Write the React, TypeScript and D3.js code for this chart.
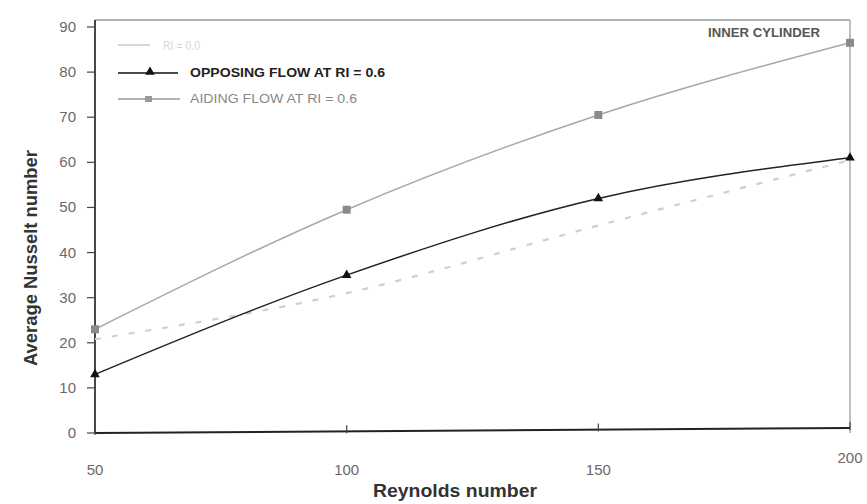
import React from "react";
import * as d3 from "d3";

const reynolds = [50, 100, 150, 200];
const ri00 = [20.8, 31, 46, 60.5];
const opposing = [13, 35, 52, 61];
const aiding = [23, 49.5, 70.5, 86.5];
const yTicks = [0, 10, 20, 30, 40, 50, 60, 70, 80, 90];
const xTicks = [50, 100, 150, 200];

const W = 867, H = 504;
const left = 95, right = 850, top = 27, bottom = 433;

export default function App() {
  const x = d3.scaleLinear().domain([50, 200]).range([left, right]);
  const y = d3.scaleLinear().domain([0, 90]).range([bottom, top]);
  const line = d3
    .line<number>()
    .x((_, i) => x(reynolds[i]))
    .y((d) => y(d))
    .curve(d3.curveMonotoneX);
  const font = "Liberation Sans, Arial, sans-serif";
  const tri = d3.symbol().type(d3.symbolTriangle).size(40)() as string;
  return (
    <svg width={W} height={H} style={{ position: "absolute", left: 0, top: 0, background: "#fff" }}>
      <rect x={0} y={0} width={W} height={H} fill="#fff" />
      {/* frame */}
      <line x1={left} y1={20} x2={right} y2={20} stroke="#999" strokeWidth={1.5} />
      <line x1={right} y1={20} x2={right} y2={bottom} stroke="#aaa" strokeWidth={1.5} />
      {/* axes */}
      <line x1={left} y1={20} x2={left} y2={bottom} stroke="#333" strokeWidth={1.8} />
      <line x1={left} y1={bottom} x2={right} y2={bottom - 5} stroke="#222" strokeWidth={2} />
      {yTicks.map((t) => (
        <g key={"y" + t}>
          <line x1={left - 8} x2={left} y1={y(t)} y2={y(t)} stroke="#444" strokeWidth={1.2} />
          <text x={76} y={y(t) + 5} textAnchor="end" fontFamily={font} fontSize={15} fill="#6a6a6a">
            {t}
          </text>
        </g>
      ))}
      {xTicks.map((t, i) => (
        <g key={"x" + t}>
          <line x1={x(t)} x2={x(t)} y1={bottom - 1.7 * i - 6} y2={bottom - 1.7 * i + 2} stroke="#444" strokeWidth={1.2} />
          <text x={x(t)} y={i === 3 ? 463 : 475} textAnchor="middle" fontFamily={font} fontSize={15} fill="#6a6a6a">
            {t}
          </text>
        </g>
      ))}
      <text
        transform={`translate(37,258) rotate(-90)`}
        textAnchor="middle"
        fontFamily={font}
        fontSize={19}
        fontWeight="bold"
        fill="#333"
        textLength={216}
        lengthAdjust="spacingAndGlyphs"
      >
        Average Nusselt number
      </text>
      <text
        x={455}
        y={497}
        textAnchor="middle"
        fontFamily={font}
        fontSize={19}
        fontWeight="bold"
        fill="#333"
        textLength={164}
        lengthAdjust="spacingAndGlyphs"
      >
        Reynolds number
      </text>
      {/* series */}
      <path d={line(ri00) || ""} fill="none" stroke="#cfcfcf" strokeWidth={2.2} strokeDasharray="6,11" />
      <path d={line(aiding) || ""} fill="none" stroke="#a8a8a8" strokeWidth={1.5} />
      <path d={line(opposing) || ""} fill="none" stroke="#222" strokeWidth={1.5} />
      {aiding.map((v, i) => (
        <rect key={"a" + i} x={x(reynolds[i]) - 4} y={y(v) - 4} width={8} height={8} fill="#8a8a8a" />
      ))}
      {opposing.map((v, i) => (
        <path key={"o" + i} d={tri} transform={`translate(${x(reynolds[i])},${y(v)})`} fill="#111" />
      ))}
      {/* legend */}
      <line x1={118} x2={150} y1={45} y2={45} stroke="#d6d6d6" strokeWidth={2} />
      <text x={163} y={50} fontFamily={font} fontSize={13} fill="#d6d6d6" textLength={37} lengthAdjust="spacingAndGlyphs">
        RI = 0.0
      </text>
      <line x1={118} x2={178} y1={73} y2={73} stroke="#111" strokeWidth={1.5} />
      <path d={tri} transform="translate(150,72)" fill="#111" />
      <text x={190} y={77} fontFamily={font} fontSize={12} fontWeight="bold" fill="#222" textLength={195} lengthAdjust="spacingAndGlyphs">
        OPPOSING FLOW AT    RI = 0.6
      </text>
      <line x1={118} x2={180} y1={99} y2={99} stroke="#999" strokeWidth={1.3} />
      <rect x={145} y={96} width={7} height={6} fill="#999" />
      <text x={190} y={103} fontFamily={font} fontSize={12} fill="#888" textLength={167} lengthAdjust="spacingAndGlyphs">
        AIDING FLOW AT   RI = 0.6
      </text>
      <text x={708} y={37} fontFamily={font} fontSize={12} fontWeight="bold" fill="#555" textLength={112} lengthAdjust="spacingAndGlyphs">
        INNER CYLINDER
      </text>
    </svg>
  );
}
